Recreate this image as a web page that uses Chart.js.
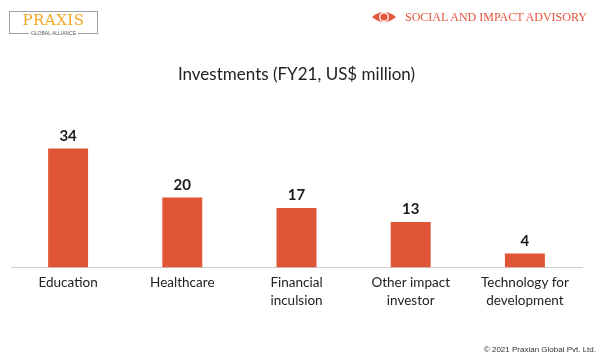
<!DOCTYPE html>
<html>
<head>
<meta charset="utf-8">
<script src="https://cdn.jsdelivr.net/npm/chart.js@4.4.0/dist/chart.umd.min.js"></script>
<style>
    html, body { margin: 0; padding: 0; background: #fff; }
    #wrap { position: relative; width: 600px; height: 359px; overflow: hidden; }
    #chart { position: absolute; left: 0; top: 0; }
    .praxis { position: absolute; left: 9px; top: 11px; width: 87px; height: 21px; border: 1px solid #a0a0a0; border-bottom: none; }
    .praxis .name { position: absolute; left: 0; right: 0; top: 0px; text-align: center; font-family: "DejaVu Serif", "Liberation Serif", serif; font-size: 15px; line-height: 17px; color: #f4a623; letter-spacing: 0.5px; }
    .praxis .sub { position: absolute; left: 0; right: 0; top: 17px; text-align: center; font-family: "Liberation Sans", sans-serif; font-size: 5px; line-height: 8px; color: #555; }
    .praxis .sub span { background: #fff; padding: 0 2px; }
    .praxis .line { position: absolute; left: -1px; right: -1px; top: 21px; border-top: 1px solid #a0a0a0; }
    .sia { position: absolute; left: 371px; top: 8px; height: 18px; display: flex; align-items: center; }
    .sia .txt { margin-left: 8px; font-family: "Liberation Serif", serif; font-size: 12px; color: #e5553a; letter-spacing: 0px; }
    .copy { position: absolute; right: 4px; top: 345px; font-family: "Liberation Sans", Arial, sans-serif; font-size: 8px; color: #333; }
</style>
</head>
<body>
<div id="wrap">
    <canvas id="chart" width="600" height="359"></canvas>
    <div class="praxis">
        <div class="name">PRAXIS</div>
        <div class="line"></div>
        <div class="sub"><span>GLOBAL ALLIANCE</span></div>
    </div>
    <div class="sia">
        <svg width="26" height="14" viewBox="0 0 26 14">
            <path d="M1 7 Q13 -3 25 7 Q13 17 1 7 Z" fill="#e5553a"/>
            <circle cx="13" cy="7" r="5" fill="#fff"/>
            <circle cx="13" cy="7" r="3.6" fill="#e5553a"/>
        </svg>
        <span class="txt">SOCIAL AND IMPACT ADVISORY</span>
    </div>
    <div class="copy">© 2021 Praxian Global Pvt. Ltd.</div>
</div>
<script>
const categories = [
    ['Education'],
    ['Healthcare'],
    ['Financial', 'inculsion'],
    ['Other impact', 'investor'],
    ['Technology for', 'development']
];
const investments = [34, 20, 17, 13, 4];
const titleText = 'Investments (FY21, US$ million)';

// Value labels above the bars
const valueLabels = {
    id: 'valueLabels',
    afterDatasetsDraw(chart) {
        const ctx = chart.ctx;
        const meta = chart.getDatasetMeta(0);
        ctx.save();
        ctx.font = 'bold 15px Lato, "Open Sans", sans-serif';
        ctx.fillStyle = '#1a1a1a';
        ctx.textAlign = 'center';
        ctx.textBaseline = 'bottom';
        meta.data.forEach((bar, i) => {
            ctx.fillText(investments[i], bar.x, bar.y - 5);
        });
        ctx.restore();
    }
};

new Chart(document.getElementById('chart').getContext('2d'), {
    type: 'bar',
    data: {
        labels: categories,
        datasets: [{
            data: investments,
            backgroundColor: '#e05535',
            barPercentage: 0.35,
            categoryPercentage: 1
        }]
    },
    options: {
        responsive: false,
        animation: false,
        layout: { padding: { left: 11, right: 18, top: 64, bottom: 43 } },
        plugins: {
            legend: { display: false },
            tooltip: { enabled: false },
            title: {
                display: true,
                text: titleText,
                color: '#222',
                font: { family: 'Lato, "Open Sans", sans-serif', size: 17, weight: 'normal' },
                padding: { top: 0, bottom: 43 }
            }
        },
        scales: {
            x: {
                grid: { display: false, drawTicks: false },
                border: { display: true, color: '#cfcfcf', width: 1 },
                ticks: {
                    color: '#222',
                    font: { family: 'Lato, "Open Sans", sans-serif', size: 13.5, lineHeight: 1.35 },
                    maxRotation: 0,
                    padding: 6
                }
            },
            y: {
                display: false,
                min: 0,
                max: 40
            }
        }
    },
    plugins: [valueLabels]
});
</script>
</body>
</html>
